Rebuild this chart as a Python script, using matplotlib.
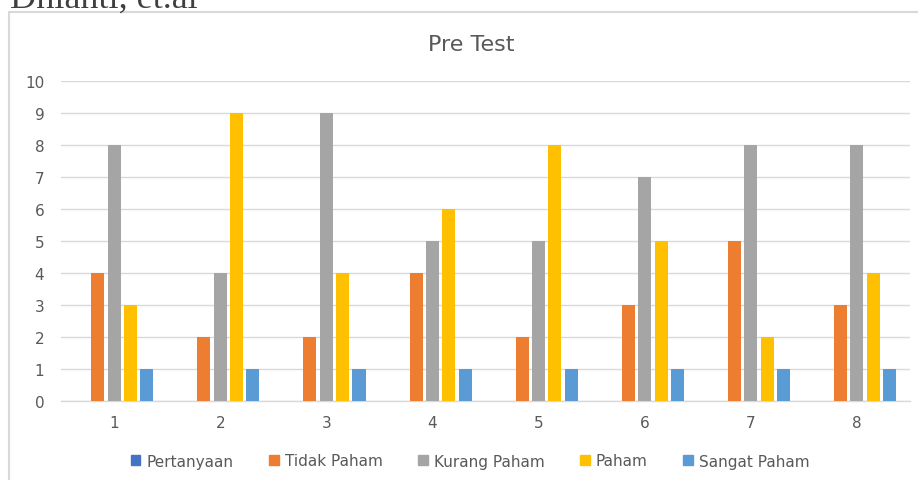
import matplotlib
matplotlib.use("Agg")
import matplotlib.pyplot as plt
import numpy as np
from matplotlib.patches import Rectangle

plt.rcParams["font.family"] = ["DejaVu Sans"]

categories = ["1", "2", "3", "4", "5", "6", "7", "8"]
series_names = ["Pertanyaan", "Tidak Paham", "Kurang Paham", "Paham", "Sangat Paham"]
pertanyaan = [0, 0, 0, 0, 0, 0, 0, 0]
tidak_paham = [4, 2, 2, 4, 2, 3, 5, 3]
kurang_paham = [8, 4, 9, 5, 5, 7, 8, 8]
paham = [3, 9, 4, 6, 8, 5, 2, 4]
sangat_paham = [1, 1, 1, 1, 1, 1, 1, 1]
colors = ["#4472C4", "#ED7D31", "#A5A5A5", "#FFC000", "#5B9BD5"]

W, H = 918, 481
fig = plt.figure(figsize=(W / 100, H / 100), dpi=100)

# chart frame (cut off at right/bottom like the screenshot)
fig.patches.append(Rectangle((9 / W, -0.05), 1.2, 1 - 13 / H + 0.05,
                             transform=fig.transFigure, fill=False,
                             edgecolor="#D9D9D9", linewidth=1.5))

# cropped caption from the page above
fig.text(10 / W, 1 - 8 / H, "Dhianti, et.al", family="Liberation Serif",
         fontsize=26, color="#404040", ha="left", va="baseline")

ax = fig.add_axes([61 / W, (H - 402) / H, (910 - 61) / W, 320 / H])

x = np.arange(len(categories))
all_series = [pertanyaan, tidak_paham, kurang_paham, paham, sangat_paham]
step = 0.154
width = 0.123
for i, (name, vals) in enumerate(zip(series_names, all_series)):
    ax.bar(x + (i - 2) * step, vals, width=width, color=colors[i], label=name, zorder=3)

ax.set_xlim(-0.5, len(categories) - 0.5)
ax.set_ylim(0, 10)
ax.set_yticks(range(0, 11))
ax.set_xticks(x)
ax.set_xticklabels(categories)
ax.yaxis.grid(True, color="#D9D9D9", linewidth=1.0, zorder=0)
for s in ["top", "right", "left"]:
    ax.spines[s].set_visible(False)
ax.spines["bottom"].set_color("#D9D9D9")
ax.spines["bottom"].set_linewidth(1.0)
ax.tick_params(axis="both", length=0, labelsize=11, labelcolor="#595959")
ax.tick_params(axis="y", pad=12)
ax.tick_params(axis="x", pad=10)

fig.text(471 / W, 1 - 45 / H, "Pre Test", fontsize=16, color="#595959",
         ha="center", va="center")

handles = [Rectangle((0, 0), 1, 1, color=c) for c in colors]
fig.legend(handles, series_names, loc="center", bbox_to_anchor=(470 / W, 1 - 462 / H),
           ncol=5, frameon=False, fontsize=11, labelcolor="#595959",
           handlelength=0.65, handleheight=0.65, handletextpad=0.4, columnspacing=2.3)

fig.savefig("out.png", dpi=100)
